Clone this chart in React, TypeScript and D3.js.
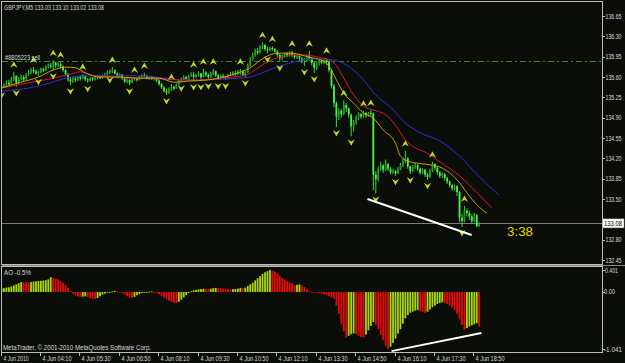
import React from "react";
import * as d3 from "d3";

const W = 625;
const H = 363;

// ---------- price data (GBPJPY, M5) ----------
const firstOpen = 135.44;
const closes = [
  135.42,135.46,135.50,135.47,135.55,135.62,135.50,135.57,135.60,135.56,
  135.64,135.68,135.72,135.70,135.66,135.68,135.74,135.71,135.77,135.80,
  135.78,135.85,135.80,135.82,135.78,135.72,135.65,135.56,135.52,135.57,
  135.55,135.60,135.58,135.62,135.56,135.54,135.58,135.56,135.59,135.61,
  135.58,135.62,135.64,135.69,135.70,135.72,135.66,135.62,135.64,135.58,
  135.52,135.55,135.50,135.56,135.58,135.55,135.60,135.63,135.62,135.58,
  135.60,135.57,135.59,135.54,135.48,135.42,135.36,135.33,135.38,135.43,
  135.40,135.47,135.52,135.56,135.60,135.57,135.62,135.64,135.60,135.63,
  135.66,135.60,135.68,135.64,135.60,135.66,135.70,135.63,135.58,135.62,
  135.60,135.58,135.63,135.66,135.64,135.68,135.66,135.70,135.64,135.68,
  135.80,135.90,135.98,136.05,136.02,136.12,136.15,136.08,136.06,136.10,
  136.08,136.04,135.98,135.92,135.96,136.00,135.97,136.02,135.98,135.94,
  135.96,135.92,135.88,135.90,135.96,135.92,135.84,135.76,135.84,135.88,
  135.85,135.89,135.86,135.72,135.45,135.15,134.92,135.02,134.96,135.12,
  135.06,134.95,134.75,134.82,134.90,134.96,134.92,134.98,134.94,134.98,
  134.97,133.92,133.84,134.02,134.08,134.00,134.10,134.02,133.96,133.98,
  133.94,134.02,134.08,134.15,134.20,134.06,133.98,134.05,134.08,134.02,
  133.95,134.00,133.92,133.88,133.98,134.10,134.04,133.96,133.90,133.93,
  133.86,133.80,133.74,133.68,133.72,133.62,133.18,133.12,133.30,133.26,
  133.20,133.12,133.22,133.03,133.08,
];
const highs = [
  135.47,135.49,135.54,135.55,135.60,135.69,135.63,135.60,135.64,135.63,
  135.67,135.72,135.75,135.77,135.73,135.71,135.76,135.76,135.80,135.83,
  135.84,135.89,135.86,135.85,135.86,135.80,135.74,135.67,135.60,135.61,
  135.60,135.62,135.63,135.65,135.63,135.58,135.60,135.60,135.62,135.63,
  135.63,135.64,135.67,135.71,135.73,135.77,135.73,135.68,135.66,135.65,
  135.59,135.58,135.56,135.58,135.60,135.59,135.62,135.65,135.67,135.64,
  135.62,135.62,135.61,135.60,135.56,135.50,135.44,135.40,135.42,135.48,
  135.45,135.49,135.55,135.59,135.63,135.62,135.64,135.68,135.69,135.66,
  135.70,135.67,135.74,135.70,135.66,135.69,135.74,135.71,135.65,135.64,
  135.66,135.62,135.65,135.69,135.70,135.71,135.72,135.74,135.71,135.70,
  135.83,135.94,136.02,136.09,136.10,136.15,136.20,136.17,136.12,136.12,
  136.13,136.10,136.06,136.00,135.99,136.02,136.03,136.04,136.05,136.00,
  135.99,135.98,135.94,135.93,135.99,136.05,135.94,135.86,135.87,135.90,
  135.91,135.92,135.93,135.88,135.74,135.48,135.18,135.06,135.05,135.20,
  135.15,135.08,134.97,134.86,134.94,134.99,134.98,135.02,135.00,135.00,
  135.03,134.99,133.98,134.06,134.14,134.10,134.18,134.12,134.05,134.02,
  134.00,134.05,134.12,134.20,134.33,134.22,134.08,134.08,134.12,134.10,
  134.04,134.03,134.02,133.95,134.02,134.14,134.12,134.06,133.98,133.96,
  133.95,133.88,133.82,133.76,133.75,133.74,133.64,133.24,133.38,133.34,
  133.30,133.24,133.26,133.24,133.10,
];
const lows = [
  135.39,135.41,135.44,135.45,135.46,135.53,135.43,135.48,135.54,135.52,
  135.55,135.62,135.65,135.66,135.64,135.62,135.66,135.68,135.70,135.75,
  135.75,135.72,135.76,135.77,135.75,135.69,135.62,135.52,135.46,135.50,
  135.51,135.53,135.54,135.56,135.53,135.50,135.52,135.53,135.54,135.56,
  135.56,135.57,135.60,135.62,135.65,135.67,135.65,135.60,135.59,135.55,
  135.50,135.49,135.46,135.49,135.54,135.52,135.54,135.58,135.59,135.56,
  135.55,135.55,135.54,135.51,135.45,135.39,135.33,135.29,135.31,135.36,
  135.37,135.40,135.46,135.51,135.55,135.55,135.56,135.60,135.53,135.58,
  135.61,135.53,135.59,135.60,135.55,135.58,135.63,135.60,135.55,135.57,
  135.58,135.55,135.57,135.61,135.62,135.62,135.63,135.64,135.62,135.60,
  135.67,135.78,135.88,135.95,135.98,136.00,136.08,136.05,136.01,136.04,
  136.05,136.02,135.95,135.86,135.89,135.93,135.94,135.95,135.94,135.91,
  135.91,135.89,135.84,135.79,135.86,135.88,135.80,135.67,135.72,135.80,
  135.82,135.82,135.80,135.68,135.40,135.08,134.74,134.86,134.90,134.94,
  135.00,134.90,134.58,134.66,134.78,134.86,134.88,134.90,134.90,134.92,
  134.92,133.65,133.60,133.80,133.98,133.95,133.98,133.98,133.92,133.93,
  133.90,133.93,134.00,134.05,134.12,134.02,133.93,133.96,134.02,133.98,
  133.92,133.93,133.88,133.83,133.86,133.96,134.00,133.92,133.86,133.86,
  133.82,133.76,133.70,133.64,133.65,133.55,133.10,133.02,133.10,133.20,
  133.14,133.08,133.10,133.02,133.02,
];

// Bill Williams fractals (bar indices)
const upFractals = [5,13,21,24,33,45,54,58,69,78,82,86,97,106,110,118,125,132,139,147,150,164,175,188];
const downFractals = [0,6,15,21,28,35,44,52,67,73,78,81,84,88,91,99,108,113,123,127,136,142,152,160,166,173,187];

// Alligator lines (bar index, price)
const lipsIdx = [0,7,15,21,26,30,34,40,48,56,64,70,76,84,93,101,107,112,118,125,130,133,136,139,143,147,151,155,160,162,166,172,178,182,186,190,194,197];
const lipsVal = [135.41,135.50,135.60,135.72,135.77,135.76,135.67,135.60,135.60,135.58,135.58,135.51,135.53,135.55,135.63,135.76,135.94,136.01,136.01,135.94,135.89,135.79,135.55,135.32,135.15,134.98,134.89,134.69,134.46,134.24,134.14,134.10,134.05,133.95,133.78,133.55,133.36,133.26];
const teethIdx = [0,11,20,28,32,37,44,52,64,72,80,89,99,103,107,113,121,129,135,139,143,147,152,156,160,164,168,172,178,186,194,199];
const teethVal = [135.41,135.50,135.57,135.65,135.69,135.63,135.60,135.58,135.57,135.55,135.55,135.58,135.63,135.72,135.84,135.94,135.98,135.94,135.84,135.58,135.29,135.10,135.02,134.95,134.77,134.52,134.38,134.31,134.14,133.90,133.57,133.35];
const jawIdx = [0,11,20,26,34,40,48,56,66,74,80,93,101,107,113,119,125,131,135,140,147,152,158,164,170,178,186,194,202];
const jawVal = [135.36,135.41,135.50,135.58,135.62,135.62,135.62,135.62,135.58,135.55,135.55,135.57,135.60,135.69,135.79,135.86,135.91,135.91,135.89,135.81,135.55,135.29,135.08,134.81,134.64,134.50,134.24,133.88,133.57];

// Awesome Oscillator
const aoValues = [
  0.06,0.07,0.08,0.085,0.10,0.12,0.14,0.16,0.18,0.178,
  0.175,0.17,0.18,0.19,0.195,0.20,0.205,0.21,0.215,0.23,
  0.27,0.26,0.245,0.23,0.20,0.17,0.13,0.08,0.02,-0.03,
  -0.06,-0.08,-0.09,-0.085,-0.08,-0.09,-0.11,-0.125,-0.13,-0.11,
  -0.08,-0.05,-0.03,-0.01,0.0,0.01,0.02,0.015,0.0,-0.02,
  -0.05,-0.08,-0.10,-0.105,-0.09,-0.06,-0.04,-0.02,-0.01,0.0,
  0.005,0.01,0.0,-0.02,-0.04,-0.07,-0.10,-0.13,-0.16,-0.18,
  -0.195,-0.205,-0.18,-0.14,-0.10,-0.06,-0.02,0.01,0.03,0.04,
  0.05,0.055,0.06,0.055,0.05,0.06,0.07,0.075,0.07,0.065,
  0.06,0.055,0.05,0.045,0.05,0.055,0.06,0.075,0.07,0.08,
  0.11,0.14,0.17,0.21,0.25,0.29,0.33,0.36,0.38,0.401,
  0.385,0.37,0.34,0.30,0.26,0.23,0.20,0.18,0.16,0.125,
  0.13,0.14,0.12,0.09,0.05,0.02,0.0,-0.01,-0.015,-0.02,
  -0.03,-0.045,-0.06,-0.08,-0.10,-0.12,-0.25,-0.40,-0.58,-0.72,
  -0.83,-0.80,-0.77,-0.755,-0.77,-0.80,-0.82,-0.83,-0.78,-0.70,
  -0.62,-0.55,-0.60,-0.68,-0.78,-0.88,-0.98,-1.041,-1.00,-0.93,
  -0.85,-0.76,-0.68,-0.58,-0.48,-0.42,-0.38,-0.36,-0.34,-0.33,
  -0.35,-0.37,-0.38,-0.36,-0.32,-0.28,-0.25,-0.22,-0.20,-0.19,
  -0.20,-0.22,-0.25,-0.28,-0.33,-0.40,-0.50,-0.60,-0.69,-0.66,
  -0.63,-0.61,-0.59,-0.57,-0.63,
];

const priceTicks = [136.65,136.30,135.95,135.60,135.25,134.90,134.55,134.20,133.85,133.50,133.15,132.80,132.45];
const aoTicks = [0.401, 0, -1.041];
const aoTickLabels = ["0.401", "0.00", "-1.041"];
const timeLabels = ["4 Jun 2010","4 Jun 04:10","4 Jun 05:30","4 Jun 06:50","4 Jun 08:10","4 Jun 09:30","4 Jun 10:50","4 Jun 12:10","4 Jun 13:30","4 Jun 14:50","4 Jun 16:10","4 Jun 17:30","4 Jun 18:50"];
const timeLabelBars = [0,16,32,48,64,80,96,112,128,144,160,176,192];

const titleText = "GBPJPY,M5  133.03 133.10 133.02 133.08";
const orderPrice = 135.88;
const orderLabel = "#8805223 sell";
const bidPrice = 133.08;
const timerText = "3:38";
const aoLabel = "AO -0.5%";
const copyright = "MetaTrader, \u00A9 2001-2010 MetaQuotes Software Corp.";

// hand-drawn trend lines (bar index, value)
const priceTrendBars = [148.6, 190.9];
const priceTrendVals = [133.50, 132.88];
const aoTrendBars = [158.4, 194.9];
const aoTrendVals = [-1.08, -0.75];

const FONT = "'Liberation Sans Narrow', 'Liberation Sans', Arial, sans-serif";
const TXT = "#d8d8d8";
const BG = "#0b0d09";
const FRAME = "#bdbdbd";

function Label(props: { x: number; y: number; text: string; len?: number; fill?: string; size?: number; anchor?: string }) {
  const { x, y, text, len, fill = TXT, size = 6.8, anchor = "start" } = props;
  return (
    <text
      x={x}
      y={y}
      fill={fill}
      fontSize={size}
      fontFamily={FONT}
      textAnchor={anchor}
      textLength={len}
      lengthAdjust={len ? "spacingAndGlyphs" : undefined}
    >
      {text}
    </text>
  );
}

export default function App() {
  const main = { left: 2, right: 602, top: 2, bottom: 264 };
  const aoP = { left: 2, right: 602, top: 267, bottom: 352 };

  const x = d3.scaleLinear().domain([0, 192]).range([1.5, 1.5 + 192 * 2.4625]);
  const yP = d3.scaleLinear().domain([132.45, 136.65]).range([260, 16]);
  const yA = d3.scaleLinear().domain([-1.041, 0.401]).range([349, 270]);

  const lineGen = d3
    .line<[number, number]>()
    .x((d) => x(d[0]))
    .y((d) => yP(d[1]))
    .curve(d3.curveMonotoneX);

  const lips = lineGen(lipsIdx.map((d, i) => [d, lipsVal[i]] as [number, number])) || "";
  const teeth = lineGen(teethIdx.map((d, i) => [d, teethVal[i]] as [number, number])) || "";
  const jaw = lineGen(jawIdx.map((d, i) => [d, jawVal[i]] as [number, number])) || "";

  const upArrow = (cx: number, cy: number) =>
    `M${cx},${cy - 3.5}L${cx + 3.6},${cy + 3}L${cx},${cy + 0.8}L${cx - 3.6},${cy + 3}Z`;
  const downArrow = (cx: number, cy: number) =>
    `M${cx},${cy + 3.5}L${cx + 3.6},${cy - 3}L${cx},${cy - 0.8}L${cx - 3.6},${cy - 3}Z`;

  const bidY = yP(bidPrice);

  return (
    <svg
      width={W}
      height={H}
      viewBox={`0 0 ${W} ${H}`}
      style={{ position: "absolute", left: 0, top: 0, display: "block" }}
    >
      <defs>
        <clipPath id="mainClip">
          <rect x={main.left} y={main.top} width={main.right - main.left} height={main.bottom - main.top} />
        </clipPath>
        <clipPath id="aoClip">
          <rect x={aoP.left} y={aoP.top} width={aoP.right - aoP.left} height={aoP.bottom - aoP.top + 3} />
        </clipPath>
      </defs>
      <rect x={0} y={0} width={W} height={H} fill={BG} />

      {/* ---------- main panel ---------- */}
      <g clipPath="url(#mainClip)">
        <line
          x1={main.left}
          x2={main.right}
          y1={Math.round(yP(orderPrice)) + 0.5}
          y2={Math.round(yP(orderPrice)) + 0.5}
          stroke="#2c8a2c"
          strokeWidth={1}
          strokeDasharray="6,3,2,3"
        />
        <line
          x1={main.left}
          x2={main.right}
          y1={Math.round(bidY) + 0.5}
          y2={Math.round(bidY) + 0.5}
          stroke="#7c7c7c"
          strokeWidth={1}
        />
        {closes.map((c, i) => {
          const o = i === 0 ? firstOpen : closes[i - 1];
          const cx = x(i);
          const top = yP(Math.max(o, c));
          const bot = yP(Math.min(o, c));
          const bull = c >= o;
          return (
            <g key={"c" + i}>
              <line x1={cx} x2={cx} y1={yP(highs[i])} y2={yP(lows[i])} stroke="#38dc38" strokeWidth={1} />
              <rect
                x={cx - 0.9}
                y={top}
                width={1.8}
                height={Math.max(1, bot - top)}
                fill={bull ? "#1f9a24" : "#4cf04c"}
              />
            </g>
          );
        })}
        <path d={jaw} fill="none" stroke="#3a26d6" strokeWidth={1} />
        <path d={teeth} fill="none" stroke="#d8133e" strokeWidth={1} />
        <path d={lips} fill="none" stroke="#c9a300" strokeWidth={1} />
        {upFractals.map((i) => (
          <path key={"u" + i} d={upArrow(x(i), yP(highs[i]) - 7)} fill="#bcd92c" />
        ))}
        {downFractals.map((i) => (
          <path key={"d" + i} d={downArrow(x(i), yP(lows[i]) + 6)} fill="#bcd92c" />
        ))}
        <line
          x1={x(priceTrendBars[0])}
          y1={yP(priceTrendVals[0])}
          x2={x(priceTrendBars[1])}
          y2={yP(priceTrendVals[1])}
          stroke="#ffffff"
          strokeWidth={2}
        />
      </g>

      <Label x={4} y={9.5} text={titleText} len={100} />
      <Label x={5} y={59.5} text={orderLabel} len={35} />
      <text
        x={507}
        y={235.5}
        fill="#e6d400"
        fontSize={12.5}
        fontFamily="'Liberation Sans', Arial, sans-serif"
        textLength={26}
        lengthAdjust="spacingAndGlyphs"
      >
        {timerText}
      </text>

      <rect
        x={main.left - 0.5}
        y={main.top - 0.5}
        width={main.right - main.left + 1}
        height={main.bottom - main.top + 1}
        fill="none"
        stroke={FRAME}
        strokeWidth={1}
      />
      <line x1={main.left} x2={W} y1={265.5} y2={265.5} stroke="#8a8a8a" strokeWidth={1} />

      {/* price axis */}
      {priceTicks.map((p) => (
        <g key={"pt" + p}>
          <line x1={main.right} x2={main.right + 3} y1={Math.round(yP(p)) + 0.5} y2={Math.round(yP(p)) + 0.5} stroke={FRAME} />
          {Math.abs(yP(p) - bidY) > 7 && (
            <Label x={605.5} y={yP(p) + 2.5} text={p.toFixed(2)} len={16} />
          )}
        </g>
      ))}
      <rect x={602.5} y={bidY - 4.5} width={21.5} height={9} fill="#ffffff" stroke="#9a9a9a" strokeWidth={0.5} />
      <Label x={604} y={bidY + 2.5} text={bidPrice.toFixed(2)} len={18} fill="#000000" />

      {/* ---------- AO panel ---------- */}
      <g clipPath="url(#aoClip)">
        {aoValues.map((v, i) => {
          const prev = i === 0 ? -Infinity : aoValues[i - 1];
          const up = v >= prev;
          const y0 = yA(0);
          const y1 = yA(v);
          return (
            <rect
              key={"a" + i}
              x={x(i) - 0.9}
              y={Math.min(y0, y1)}
              width={1.8}
              height={Math.max(0.8, Math.abs(y1 - y0))}
              fill={up ? "#a8d80a" : "#e80a0a"}
            />
          );
        })}
        <line
          x1={x(aoTrendBars[0])}
          y1={yA(aoTrendVals[0])}
          x2={x(aoTrendBars[1])}
          y2={yA(aoTrendVals[1])}
          stroke="#ffffff"
          strokeWidth={2}
        />
      </g>
      <Label x={4} y={274.5} text={aoLabel} len={27} />
      <Label x={3} y={350} text={copyright} len={148} />

      <rect
        x={aoP.left - 0.5}
        y={aoP.top - 0.5}
        width={aoP.right - aoP.left + 1}
        height={aoP.bottom - aoP.top + 1}
        fill="none"
        stroke={FRAME}
        strokeWidth={1}
      />
      {aoTicks.map((v, k) => (
        <g key={"at" + k}>
          <line x1={aoP.right} x2={aoP.right + 3} y1={Math.round(yA(v)) + 0.5} y2={Math.round(yA(v)) + 0.5} stroke={FRAME} />
          <Label
            x={k === 0 ? 605 : 604}
            y={yA(v) + 2.5}
            text={aoTickLabels[k]}
            len={k === 0 ? 13 : k === 1 ? 11 : 18}
          />
        </g>
      ))}

      {/* ---------- time axis ---------- */}
      {timeLabels.map((t, k) => {
        const tx = Math.round(x(timeLabelBars[k])) - 0.5;
        return (
          <g key={"tl" + k}>
            <line x1={tx} x2={tx} y1={aoP.bottom} y2={aoP.bottom + 4} stroke={FRAME} />
            <Label x={tx + 2} y={361} text={t} len={k === 0 ? 25 : 29} />
          </g>
        );
      })}
    </svg>
  );
}
